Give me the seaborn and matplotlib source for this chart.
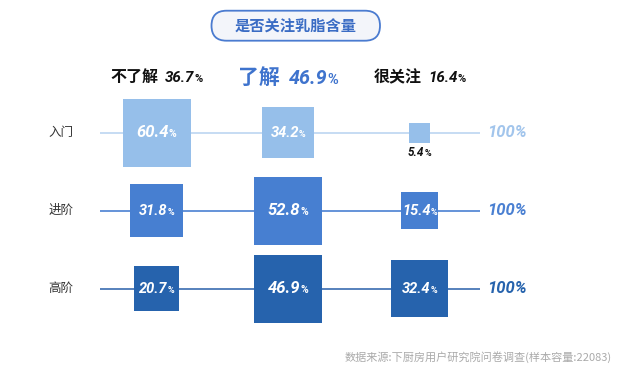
import matplotlib
matplotlib.use("Agg")
import matplotlib.pyplot as plt
from matplotlib.offsetbox import TextArea, HPacker, AnnotationBbox
from matplotlib.patches import FancyBboxPatch
from matplotlib.transforms import IdentityTransform
import numpy as np
import pandas as pd
import seaborn as sns

sns.set_theme(style="white")
plt.rcParams['font.family'] = ['Noto Sans CJK SC', 'DejaVu Sans']

## Data
title = "是否关注乳脂含量"
attitudes = ["不了解", "了解", "很关注"]
attitude_share = [36.7, 46.9, 16.4]
levels = ["入门", "进阶", "高阶"]
entry_share = [60.4, 34.2, 5.4]
advanced_share = [31.8, 52.8, 15.4]
expert_share = [20.7, 46.9, 32.4]
row_totals = ["100%", "100%", "100%"]
source = "数据来源:下厨房用户研究院问卷调查(样本容量:22083)"

box_colors = ["#96BFEA", "#477FD1", "#2663AD"]
line_colors = ["#BCD6F1", "#4A80D2", "#3A6CB0"]
total_colors = ["#A2C5EC", "#4A80D2", "#2663AD"]
num_font = ["Roboto", "DejaVu Sans"]

recs = []
for r, (lvl, vals) in enumerate(zip(levels, [entry_share, advanced_share, expert_share])):
    top = max(vals)
    for c, (att, v) in enumerate(zip(attitudes, vals)):
        recs.append(dict(level=lvl, attitude=att, row=r, col=c, value=v, rel=v / top))
df = pd.DataFrame(recs)

## Layout (pixels of the 638x373 canvas)
W, H = 638, 373
x0, px_col = 156.5, 131.5
y0, px_row = 132.7, 78.0
max_side = 68  # px, biggest square in each row

def dx(p):
    return (p - x0) / px_col

def dy(p):
    return (p - y0) / px_row

fig = plt.figure(figsize=(W / 100, H / 100), dpi=100)
ax = fig.add_axes([0, 0, 1, 1])

## Row lines
for r in range(len(levels)):
    ax.hlines(r, dx(100), dx(480), color=line_colors[r], lw=1.2, zorder=1)
    ax.text(dx(61), r, levels[r], ha="center", va="center", fontsize=9, color="#333333")
    ax.text(dx(487), r, row_totals[r], ha="left", va="center", fontsize=12,
            fontweight="bold", fontstyle="italic", family=num_font, color=total_colors[r])

## Squares, area ~ share within row
area = (max_side * 0.72) ** 2
sns.scatterplot(data=df, x="col", y="row", hue="level", palette=dict(zip(levels, box_colors)),
                size="rel", sizes=(0, area), size_norm=(0, 1), marker="s", linewidth=0,
                alpha=1, legend=False, ax=ax, zorder=2)
ax.set_xlim(dx(0), dx(W))
ax.set_ylim(dy(H), dy(0))
ax.axis("off")


def pct_label(num, size, color, pct_size, sep=0):
    a = TextArea(num, textprops=dict(color=color, fontsize=size, fontweight="bold",
                                     fontstyle="italic", family=num_font))
    b = TextArea("%", textprops=dict(color=color, fontsize=pct_size, fontweight="bold",
                                     family=num_font))
    return HPacker(children=[a, b], align="baseline", pad=0, sep=sep)


for _, row in df.iterrows():
    side = max_side * np.sqrt(row["rel"])
    num = f"{row['value']:.1f}"
    if side > 30:
        fs = 12 if row["rel"] == 1 else 10.5
        box = pct_label(num, fs, "white", fs * 0.62)
        ab = AnnotationBbox(box, (row["col"], row["row"]), frameon=False,
                            box_alignment=(0.5, 0.5), pad=0, zorder=3)
    else:
        box = pct_label(num, 8.5, "#111111", 6.5)
        ab = AnnotationBbox(box, (row["col"], row["row"]), xybox=(0, -(side / 2 + 10) * 0.72),
                            boxcoords="offset points", frameon=False,
                            box_alignment=(0.5, 0.5), pad=0, zorder=3)
    ax.add_artist(ab)

## Column headers
for c, (att, share) in enumerate(zip(attitudes, attitude_share)):
    big = c == 1
    col = "#3E73CD" if big else "#111111"
    fs = 15 if big else 11.5
    t1 = TextArea(att, textprops=dict(color=col, fontsize=fs, fontweight="heavy"))
    num = pct_label(f"{share:.1f}", fs * 0.95, col, fs * 0.7)
    hb = HPacker(children=[t1, num], align="baseline", pad=0, sep=6 if big else 5)
    ax.add_artist(AnnotationBbox(hb, (c, dy(77)), frameon=False, box_alignment=(0.5, 0.5), pad=0))

## Title pill
pill = FancyBboxPatch((211.5, H - 40.7), 168.5, 30, boxstyle="round,pad=0,rounding_size=15",
                      transform=IdentityTransform(), fc="#F3F5FA", ec="#4A7BD0", lw=1.3)
fig.add_artist(pill)
fig.text(296 / W, 1 - 26 / H, title, ha="center", va="center", fontsize=11,
         fontweight="bold", color="#3A6CC4")

## Source
fig.text(612 / W, 1 - 357 / H, source, ha="right", va="center", fontsize=8, color="#AAAAAA")

fig.savefig("out.png", dpi=100)
